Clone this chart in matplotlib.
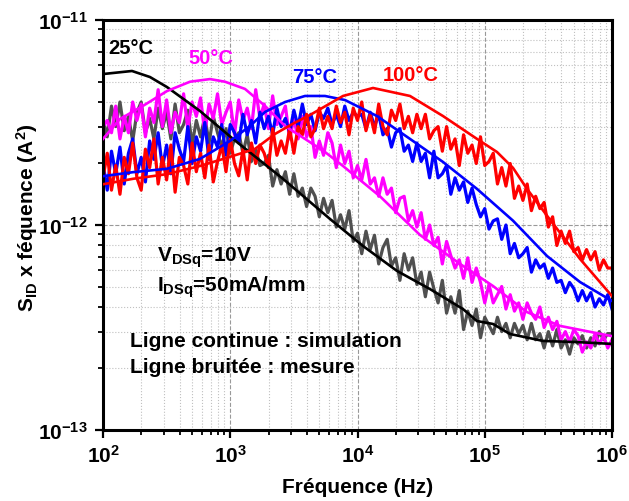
import numpy as np
import matplotlib
matplotlib.use("Agg")
import matplotlib.pyplot as plt
from matplotlib.ticker import FixedLocator, LogLocator, NullFormatter

plt.rcParams['font.family'] = ['Liberation Sans', 'DejaVu Sans']
plt.rcParams['font.weight'] = 'bold'
plt.rcParams['mathtext.fontset'] = 'custom'
plt.rcParams['mathtext.rm'] = 'Liberation Sans:bold'
plt.rcParams['mathtext.bf'] = 'Liberation Sans:bold'
plt.rcParams['mathtext.it'] = 'Liberation Sans:bold'
plt.rcParams['mathtext.sf'] = 'Liberation Sans:bold'
plt.rcParams['mathtext.default'] = 'bf'

# ---------------------------------------------------------------
# Mesures : log10(S_ID x f) en A^2, balayage log 100 Hz -> 1 MHz (121 pts)
# ---------------------------------------------------------------
freq_mes = np.logspace(2, 6, 121)

log_mes_25C = [
    -11.48, -11.57, -11.42, -11.52, -11.40, -11.54, -11.47, -11.59, -11.45, -11.40,
    -11.55, -11.48, -11.58, -11.43, -11.53, -11.45, -11.58, -11.41, -11.55, -11.51,
    -11.44, -11.61, -11.49, -11.57, -11.47, -11.60, -11.47, -11.55, -11.62, -11.53,
    -11.65, -11.58, -11.55, -11.65, -11.56, -11.69, -11.63, -11.71, -11.70, -11.66,
    -11.81, -11.73, -11.80, -11.74, -11.85, -11.75, -11.86, -11.82, -11.91, -11.82,
    -11.86, -11.96, -11.87, -11.94, -11.88, -12.01, -11.95, -12.02, -11.93, -12.08,
    -12.04, -12.14, -12.03, -12.12, -12.05, -12.19, -12.11, -12.07, -12.20, -12.16,
    -12.27, -12.14, -12.22, -12.16, -12.29, -12.23, -12.35, -12.23, -12.31, -12.38,
    -12.27, -12.43, -12.35, -12.43, -12.32, -12.51, -12.42, -12.49, -12.41, -12.55,
    -12.45, -12.49, -12.53, -12.45, -12.52, -12.48, -12.55, -12.48, -12.53, -12.49,
    -12.56, -12.48, -12.56, -12.53, -12.60, -12.52, -12.59, -12.51, -12.60, -12.56,
    -12.63, -12.55, -12.58, -12.54, -12.60, -12.55, -12.59, -12.52, -12.56, -12.53,
    -12.53]

log_mes_50C = [
    -11.52, -11.49, -11.55, -11.42, -11.58, -11.47, -11.55, -11.40, -11.49, -11.41,
    -11.57, -11.43, -11.50, -11.34, -11.52, -11.39, -11.55, -11.45, -11.50, -11.36,
    -11.53, -11.40, -11.47, -11.38, -11.55, -11.41, -11.48, -11.36, -11.51, -11.45,
    -11.40, -11.56, -11.39, -11.49, -11.43, -11.53, -11.34, -11.48, -11.41, -11.53,
    -11.37, -11.51, -11.47, -11.42, -11.58, -11.48, -11.58, -11.47, -11.57, -11.52,
    -11.67, -11.59, -11.66, -11.55, -11.60, -11.72, -11.61, -11.70, -11.64, -11.77,
    -11.71, -11.78, -11.68, -11.80, -11.77, -11.86, -11.77, -11.85, -11.82, -11.94,
    -11.87, -11.86, -11.98, -11.93, -12.01, -11.94, -12.07, -12.00, -12.10, -12.06,
    -12.19, -12.08, -12.15, -12.21, -12.17, -12.26, -12.16, -12.28, -12.21, -12.28,
    -12.38, -12.29, -12.38, -12.34, -12.30, -12.41, -12.34, -12.42, -12.38, -12.46,
    -12.38, -12.43, -12.46, -12.40, -12.50, -12.45, -12.51, -12.47, -12.56, -12.52,
    -12.57, -12.51, -12.54, -12.62, -12.57, -12.60, -12.53, -12.58, -12.54, -12.60,
    -12.56]

log_mes_75C = [
    -11.70, -11.83, -11.64, -11.75, -11.62, -11.80, -11.65, -11.58, -11.75, -11.67,
    -11.79, -11.59, -11.68, -11.55, -11.72, -11.61, -11.75, -11.55, -11.63, -11.69,
    -11.52, -11.70, -11.57, -11.64, -11.50, -11.68, -11.57, -11.62, -11.51, -11.66,
    -11.51, -11.55, -11.60, -11.46, -11.56, -11.49, -11.60, -11.45, -11.53, -11.47,
    -11.56, -11.43, -11.52, -11.48, -11.55, -11.44, -11.52, -11.41, -11.51, -11.46,
    -11.54, -11.45, -11.48, -11.43, -11.51, -11.46, -11.52, -11.42, -11.49, -11.45,
    -11.47, -11.46, -11.53, -11.45, -11.52, -11.46, -11.56, -11.53, -11.62, -11.55,
    -11.53, -11.64, -11.61, -11.69, -11.60, -11.69, -11.65, -11.77, -11.64, -11.77,
    -11.75, -11.71, -11.85, -11.77, -11.83, -11.79, -11.89, -11.82, -11.90, -11.96,
    -11.92, -12.02, -11.98, -11.97, -12.07, -12.00, -12.14, -12.09, -12.16, -12.14,
    -12.11, -12.23, -12.17, -12.21, -12.19, -12.26, -12.21, -12.28, -12.27, -12.33,
    -12.28, -12.31, -12.37, -12.32, -12.37, -12.33, -12.40, -12.36, -12.39, -12.34,
    -12.41]

log_mes_100C = [
    -11.77, -11.65, -11.83, -11.71, -11.85, -11.67, -11.75, -11.60, -11.77, -11.83,
    -11.63, -11.72, -11.58, -11.80, -11.67, -11.78, -11.61, -11.84, -11.67, -11.71,
    -11.80, -11.60, -11.74, -11.65, -11.77, -11.61, -11.79, -11.69, -11.61, -11.74,
    -11.58, -11.70, -11.76, -11.63, -11.78, -11.60, -11.70, -11.61, -11.65, -11.72,
    -11.53, -11.66, -11.59, -11.65, -11.53, -11.65, -11.52, -11.56, -11.46, -11.57,
    -11.53, -11.43, -11.53, -11.47, -11.53, -11.42, -11.50, -11.45, -11.56, -11.43,
    -11.49, -11.40, -11.54, -11.46, -11.55, -11.41, -11.52, -11.56, -11.44, -11.49,
    -11.41, -11.53, -11.47, -11.55, -11.46, -11.53, -11.46, -11.58, -11.54, -11.52,
    -11.64, -11.52, -11.63, -11.58, -11.71, -11.56, -11.65, -11.61, -11.70, -11.57,
    -11.71, -11.69, -11.65, -11.80, -11.72, -11.81, -11.70, -11.87, -11.81, -11.88,
    -11.80, -11.93, -11.86, -11.92, -11.89, -12.01, -11.96, -12.10, -12.03, -12.09,
    -12.03, -12.13, -12.11, -12.17, -12.12, -12.17, -12.13, -12.22, -12.17, -12.21,
    -12.21]

# ---------------------------------------------------------------
# Simulations (unités : 1e-12 A^2)
# ---------------------------------------------------------------
f_sim_25C = [100, 169, 234, 318, 578, 1051, 2597, 6081, 11050, 20430,
             37120, 67470, 86910, 116100, 157900, 286900, 560500, 1e6]
sim_25C = [5.45, 5.64, 5.27, 4.71, 3.60, 2.63, 1.68, 1.07, 0.790, 0.597,
           0.487, 0.389, 0.340, 0.329, 0.294, 0.272, 0.268, 0.263]

f_sim_50C = [100, 136, 206, 318, 483, 693, 909, 1306, 1876, 2694,
             3868, 5554, 7692, 15020, 30990, 63890, 116100, 214800, 390300, 1e6]
sim_50C = [2.63, 3.29, 3.81, 4.50, 5.00, 5.15, 5.00, 4.61, 3.81, 3.04,
           2.63, 2.27, 1.94, 1.38, 0.894, 0.646, 0.504, 0.376, 0.322, 0.287]

f_sim_75C = [100, 172, 318, 578, 995, 1430, 1876, 2694, 3868, 5554,
             7978, 14230, 25850, 46980, 86910, 166700, 308500, 560500, 1e6]
sim_75C = [1.73, 1.81, 1.88, 2.10, 2.57, 3.04, 3.56, 3.98, 4.26, 4.26,
           4.07, 3.40, 2.63, 2.03, 1.50, 1.05, 0.706, 0.527, 0.426]

f_sim_100C = [100, 172, 318, 578, 995, 1565, 2247, 3228, 4233, 7692,
              13240, 25850, 46980, 86910, 124800, 166700, 214800, 308500, 560500, 1e6]
sim_100C = [1.58, 1.68, 1.77, 1.94, 2.15, 2.35, 2.78, 3.16, 3.44, 4.26,
            4.66, 4.26, 3.40, 2.63, 2.27, 1.90, 1.50, 1.11, 0.683, 0.450]

temperatures = ['25°C', '50°C', '75°C', '100°C']
couleurs_mes = ['#505050', '#ff00ff', '#0000ff', '#ff0000']
couleurs_sim = ['#000000', '#ff00ff', '#0000ff', '#ff0000']

echelle = 1e-12

fig = plt.figure(figsize=(6.29, 5.02), dpi=100)
ax = fig.add_axes([103/629, 1 - 431/502, 509/629, 410/502])

# mesures bruitées
for mes, c in zip([log_mes_25C, log_mes_50C, log_mes_75C, log_mes_100C], couleurs_mes):
    ax.plot(freq_mes, 10.0 ** np.array(mes), color=c, lw=2.3,
            solid_joinstyle='round', zorder=2)

# simulations (lignes continues)
for f, s, c in zip([f_sim_25C, f_sim_50C, f_sim_75C, f_sim_100C],
                   [sim_25C, sim_50C, sim_75C, sim_100C], couleurs_sim):
    ax.plot(f, np.array(s) * echelle, color=c, lw=1.9, zorder=3)

ax.set_xscale('log')
ax.set_yscale('log')
ax.set_xlim(1e2, 1e6)
ax.set_ylim(1e-13, 1e-11)

# ticks
ax.xaxis.set_major_locator(FixedLocator([1e2, 1e3, 1e4, 1e5, 1e6]))
ax.set_xticklabels(['$10^{2}$', '$10^{3}$', '$10^{4}$', '$10^{5}$', '$10^{6}$'])
ax.yaxis.set_major_locator(FixedLocator([1e-13, 1e-12, 1e-11]))
ax.set_yticklabels(['$10^{-13}$', '$10^{-12}$', '$10^{-11}$'])
ax.xaxis.set_minor_locator(LogLocator(base=10, subs=np.arange(2, 10)))
ax.yaxis.set_minor_locator(LogLocator(base=10, subs=np.arange(2, 10)))
ax.xaxis.set_minor_formatter(NullFormatter())
ax.yaxis.set_minor_formatter(NullFormatter())

ax.tick_params(which='major', direction='out', length=6, width=1.6,
               labelsize=15, top=False, right=False)
ax.tick_params(which='minor', direction='out', length=3.5, width=1.3,
               top=False, right=False)
ax.tick_params(axis='x', which='major', pad=4)
ax.tick_params(axis='y', which='major', pad=5)

ax.grid(True, which='major', color='#999999', linestyle='--', linewidth=0.8, zorder=0)
ax.grid(True, which='minor', color='#c0c0c0', linestyle=':', linewidth=0.8, zorder=0)

for sp in ax.spines.values():
    sp.set_linewidth(2.2)

ax.set_xlabel('Fréquence (Hz)', fontsize=15, fontweight='bold')
ax.xaxis.set_label_coords(0.5, -0.115)
ax.set_ylabel('S$_{ID}$ x féquence (A$^{2}$)', fontsize=15, fontweight='bold')
ax.yaxis.set_label_coords(-0.124, 0.52)

# annotations
ax.text(0.01, 0.932, temperatures[0], transform=ax.transAxes, color=couleurs_sim[0],
        fontsize=14.5, fontweight='bold', ha='left', va='center')
ax.text(0.212, 0.908, temperatures[1], transform=ax.transAxes, color=couleurs_sim[1],
        fontsize=14.5, fontweight='bold', ha='center', va='center')
ax.text(0.415, 0.863, temperatures[2], transform=ax.transAxes, color=couleurs_sim[2],
        fontsize=14.5, fontweight='bold', ha='center', va='center')
ax.text(0.605, 0.866, temperatures[3], transform=ax.transAxes, color=couleurs_sim[3],
        fontsize=14.5, fontweight='bold', ha='center', va='center')

ax.text(0.106, 0.412, 'V$_{DSq}$=10V', transform=ax.transAxes,
        fontsize=15, fontweight='bold', ha='left', va='baseline')
ax.text(0.106, 0.339, 'I$_{DSq}$=50mA/mm', transform=ax.transAxes,
        fontsize=15, fontweight='bold', ha='left', va='baseline')
ax.text(0.053, 0.205, 'Ligne continue : simulation', transform=ax.transAxes,
        fontsize=15, fontweight='bold', ha='left', va='baseline')
ax.text(0.053, 0.141, 'Ligne bruitée : mesure', transform=ax.transAxes,
        fontsize=15, fontweight='bold', ha='left', va='baseline')

fig.savefig('out.png', dpi=100)
